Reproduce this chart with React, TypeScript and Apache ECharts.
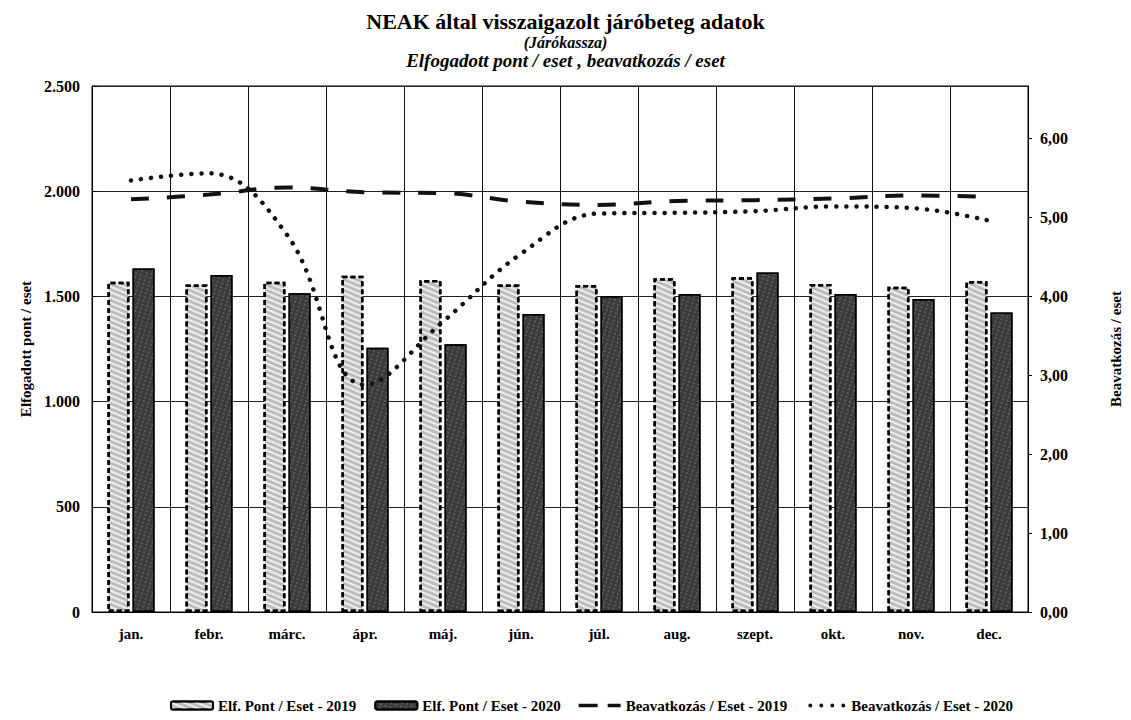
import React, { useEffect, useRef } from "react";
import * as echarts from "echarts";

const months = ["jan.", "febr.", "márc.", "ápr.", "máj.", "jún.", "júl.", "aug.", "szept.", "okt.", "nov.", "dec."];
const pont2019 = [1570, 1557, 1570, 1598, 1578, 1557, 1554, 1586, 1591, 1559, 1546, 1573];
const pont2020 = [1633, 1602, 1515, 1256, 1272, 1416, 1502, 1511, 1613, 1511, 1488, 1424];
const beav2019 = [5.23, 5.29, 5.38, 5.32, 5.31, 5.2, 5.16, 5.21, 5.22, 5.24, 5.28, 5.26];
const beav2020 = [5.47, 5.56, 4.78, 2.88, 3.68, 4.54, 5.05, 5.06, 5.08, 5.14, 5.12, 4.96];

const titleMain = "NEAK által visszaigazolt járóbeteg adatok";
const titleSub1 = "(Járókassza)";
const titleSub2 = "Elfogadott pont / eset , beavatkozás / eset";
const leftName = "Elfogadott pont / eset";
const rightName = "Beavatkozás / eset";
const seriesNames = [
  "Elf. Pont / Eset - 2019",
  "Elf. Pont / Eset - 2020",
  "Beavatkozás / Eset - 2019",
  "Beavatkozás / Eset - 2020",
];

const FONT = "'Liberation Serif', 'Times New Roman', serif";

const dashIcon =
  "path://M0,0h0.01v8h-0.01z M0,2.2h19v3.6h-19z M29,2.2h13v3.6h-13z";
function dot(cx: number, cy: number, r: number): string {
  return `M${cx - r},${cy} a${r},${r} 0 1,0 ${2 * r},0 a${r},${r} 0 1,0 ${-2 * r},0 z`;
}
const dotIcon =
  "path://M0,0h0.01v8h-0.01z " + [5, 16, 27, 38].map((x) => dot(x, 4, 2)).join(" ");

function fmtLeft(v: number): string {
  if (v >= 1000) {
    return Math.floor(v / 1000) + "." + String(v % 1000).padStart(3, "0");
  }
  return String(v);
}

export default function App() {
  const ref = useRef<HTMLDivElement>(null);
  useEffect(() => {
    if (!ref.current) return;
    const chart = echarts.init(ref.current, null, { renderer: "svg" });
    chart.setOption({
      animation: false,
      backgroundColor: "#ffffff",
      textStyle: { fontFamily: FONT, color: "#000" },
      title: [
        {
          text: titleMain,
          left: "center",
          top: 10,
          padding: 0,
          textStyle: { fontFamily: FONT, fontSize: 22, lineHeight: 22, fontWeight: "bold", color: "#000" },
        },
        {
          text: titleSub1,
          left: "center",
          top: 34,
          padding: 0,
          textStyle: { fontFamily: FONT, fontSize: 16, lineHeight: 16, fontWeight: "bold", fontStyle: "italic", color: "#000" },
        },
        {
          text: titleSub2,
          left: "center",
          top: 51,
          padding: 0,
          textStyle: { fontFamily: FONT, fontSize: 19, lineHeight: 19, fontWeight: "bold", fontStyle: "italic", color: "#000" },
        },
      ],
      grid: {
        left: 92,
        right: 91,
        top: 86,
        bottom: 108,
        show: true,
        borderColor: "#000",
        borderWidth: 1,
        backgroundColor: "transparent",
      },
      legend: {
        left: 165,
        top: 693,
        itemWidth: 42,
        itemHeight: 8,
        itemGap: 18,
        textStyle: { fontFamily: FONT, fontSize: 15, fontWeight: "bold", color: "#000" },
        data: [
          { name: seriesNames[0] },
          { name: seriesNames[1] },
          { name: seriesNames[2], icon: dashIcon, itemStyle: { color: "#111", borderWidth: 0 } },
          { name: seriesNames[3], icon: dotIcon, itemStyle: { color: "#111", borderWidth: 0 } },
        ],
      },
      xAxis: {
        type: "category",
        data: months,
        boundaryGap: true,
        axisLine: { show: true, lineStyle: { color: "#000", width: 1 } },
        axisTick: { show: false },
        axisLabel: { fontFamily: FONT, fontSize: 15, fontWeight: "bold", color: "#000", margin: 14 },
        splitLine: { show: true, lineStyle: { color: "#111", width: 1 } },
      },
      yAxis: [
        {
          type: "value",
          min: 0,
          max: 2500,
          interval: 500,
          name: leftName,
          nameLocation: "middle",
          nameRotate: 90,
          nameGap: 56,
          nameTextStyle: { fontFamily: FONT, fontSize: 15, fontWeight: "bold", color: "#000" },
          axisLine: { show: true, lineStyle: { color: "#000", width: 1 } },
          axisTick: { show: true, inside: true, length: 5, lineStyle: { color: "#000" } },
          axisLabel: { fontFamily: FONT, fontSize: 16, fontWeight: "bold", color: "#000", margin: 12, formatter: fmtLeft },
          splitLine: { show: true, lineStyle: { color: "#222", width: 1 } },
        },
        {
          type: "value",
          min: 0,
          max: 20 / 3,
          interval: 1,
          position: "right",
          name: rightName,
          nameLocation: "middle",
          nameRotate: 90,
          nameGap: 80,
          nameTextStyle: { fontFamily: FONT, fontSize: 15, fontWeight: "bold", color: "#000" },
          axisLine: { show: true, lineStyle: { color: "#000", width: 1 } },
          axisTick: { show: true, length: 4, lineStyle: { color: "#000" } },
          axisLabel: {
            fontFamily: FONT,
            fontSize: 16,
            fontWeight: "bold",
            color: "#000",
            margin: 12,
            showMaxLabel: false,
            formatter: (v: number) => v.toFixed(2).replace(".", ","),
          },
          splitLine: { show: false },
        },
      ],
      series: [
        {
          name: seriesNames[0],
          type: "bar",
          yAxisIndex: 0,
          data: pont2019,
          barWidth: 22,
          barGap: "14%",
          itemStyle: {
            color: "#bdbdbd",
            borderColor: "#000",
            borderWidth: 2.5,
            borderType: [5, 3],
            decal: {
              symbol: "rect",
              symbolSize: 1,
              color: "rgba(255,255,255,0.75)",
              dashArrayX: [1, 0],
              dashArrayY: [2, 3],
              rotation: 0.4,
            },
          },
        },
        {
          name: seriesNames[1],
          type: "bar",
          yAxisIndex: 0,
          data: pont2020,
          barWidth: 22,
          itemStyle: {
            color: "#3a3a3a",
            borderColor: "#000",
            borderWidth: 1.5,
            decal: {
              symbol: "circle",
              symbolSize: 0.7,
              color: "rgba(255,255,255,0.45)",
              dashArrayX: [2, 3],
              dashArrayY: [2, 2],
              rotation: 0.3,
            },
          },
        },
        {
          name: seriesNames[2],
          type: "line",
          yAxisIndex: 1,
          data: beav2019,
          smooth: 0.4,
          showSymbol: false,
          symbol: "none",
          lineStyle: { color: "#111", width: 4, type: [18, 18] },
          itemStyle: { color: "#111" },
          z: 5,
        },
        {
          name: seriesNames[3],
          type: "line",
          yAxisIndex: 1,
          data: beav2020,
          smooth: 0.4,
          showSymbol: false,
          symbol: "none",
          lineStyle: { color: "#111", width: 4.5, type: [0.1, 10], cap: "round" },
          itemStyle: { color: "#111" },
          z: 6,
        },
      ],
    });
    return () => chart.dispose();
  }, []);
  return (
    <div
      ref={ref}
      style={{ position: "fixed", left: 0, top: 0, width: 1131, height: 720, background: "#fff" }}
    />
  );
}
